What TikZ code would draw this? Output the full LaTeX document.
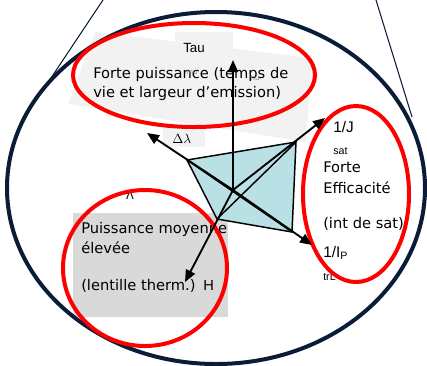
\documentclass[tikz,border=0pt]{standalone}
\usepackage{fontspec}
\setmainfont{DejaVu Sans}
\newfontfamily\arialfont{Liberation Sans}
\usetikzlibrary{arrows.meta}
\definecolor{navy}{RGB}{10,28,56}
\definecolor{ringred}{RGB}{255,0,0}
\definecolor{quadblue}{RGB}{185,224,228}
\definecolor{boxgray}{RGB}{217,217,217}
\definecolor{paleg}{RGB}{242,242,242}

\begin{document}
\begin{tikzpicture}[x=0.75pt,y=-0.75pt,
  redring/.style={draw=ringred,line width=3pt},
  arw/.style={line width=1.4pt,-{Triangle[length=9pt,width=7.5pt]}},
  txt/.style={anchor=base west,inner sep=0pt,font=\fontsize{11}{14}\selectfont},
  small/.style={anchor=base west,inner sep=0pt,font=\arialfont\fontsize{8}{8}\selectfont}]
\useasboundingbox (0,0) rectangle (427,365);
% pale backdrops
\fill[paleg] (95,32) -- (312,58) -- (306,142) -- (68,104) -- cycle;
\fill[paleg] (175,32) rectangle (233,62);
\fill[paleg] (163,128) rectangle (205,147);
\fill[boxgray] (73,213) rectangle (228,317);
% lens
\draw[navy,line width=3pt] (216,188) ellipse [x radius=156.75pt,y radius=132pt];
\draw[navy,line width=0.8pt] (103,0) -- (23,120);
\draw[navy,line width=0.8pt] (376,0) -- (412,117);
% the star
\coordinate (O) at (233,190);
\coordinate (A) at (187,160);
\coordinate (B) at (296,142);
\coordinate (C) at (292,232);
\coordinate (D) at (217,219);
\coordinate (tTau) at (233,60);
\coordinate (tDl) at (147,133);
\coordinate (tJ) at (325,118);
\coordinate (tIp) at (312,245);
\coordinate (tH) at (185,282);
\fill[quadblue] (A) -- (B) -- (C) -- (D) -- cycle;
\draw[line width=1.1pt] (A) -- (B) -- (C) -- (D) -- cycle;
\draw[line width=1.1pt] (A) -- (C) (B) -- (D);
% labels
\node[small,font=\arialfont\fontsize{10}{10}\selectfont] (tau) at (183,52) {Tau};
\node[txt] (fp1) at (93,78) {Forte puissance (temps de};
\node[txt] (fp2) at (93,97) {vie et largeur d’emission)};
\node[font=\fontsize{5}{5}\selectfont,text=gray,inner sep=0pt] (mu1) at (192,73) {mu};
\node[font=\fontsize{5}{5}\selectfont,text=gray,inner sep=0pt] (mu2) at (254,79) {mu};
\node[anchor=base west,inner sep=0pt] (dl) at (172,143) {$\Delta\lambda$};
\node[inner sep=0pt,font=\fontsize{8.5}{8.5}\selectfont] (lam) at (130,195) {Λ};
\node[small,font=\arialfont\fontsize{11.5}{12}\selectfont] (invj) at (333,132) {1/J};
\node[small] (sat) at (333,154) {sat};
\node[txt] (forte) at (323,172) {Forte};
\node[txt] (eff) at (323,193) {Efficacité};
\node[txt] (intsat) at (323,228) {(int de sat)};
\node[small,font=\arialfont\fontsize{11.5}{12}\selectfont] (invip) at (323,257) {1/I\raisebox{-2pt}{\fontsize{8}{8}\selectfont P}};
\node[small] (trl) at (323,280) {trL};
\begin{scope}
\clip (73,213) rectangle (228,317);
\node[txt] (pm1) at (81,233) {Puissance moyenne};
\node[txt] (pm2) at (81,253) {élevée};
\node[txt] (pm3) at (81,290) {(lentille therm.)};
\end{scope}
\node[small,font=\arialfont\fontsize{11}{11}\selectfont] (h) at (203,290) {H};
% red rings
\draw[redring] (194,75) ellipse [x radius=90.75pt,y radius=39pt];
\draw[redring] (356,194) ellipse [x radius=39.75pt,y radius=66pt];
\draw[redring] (145,268) ellipse [x radius=61.5pt,y radius=58.5pt];
% axes
\draw[arw] (O) -- (tTau);
\draw[arw] (O) -- (tDl);
\draw[arw] (O) -- (tJ);
\draw[arw] (O) -- (tIp);
\draw[arw] (O) -- (tH);
\end{tikzpicture}
\end{document}
